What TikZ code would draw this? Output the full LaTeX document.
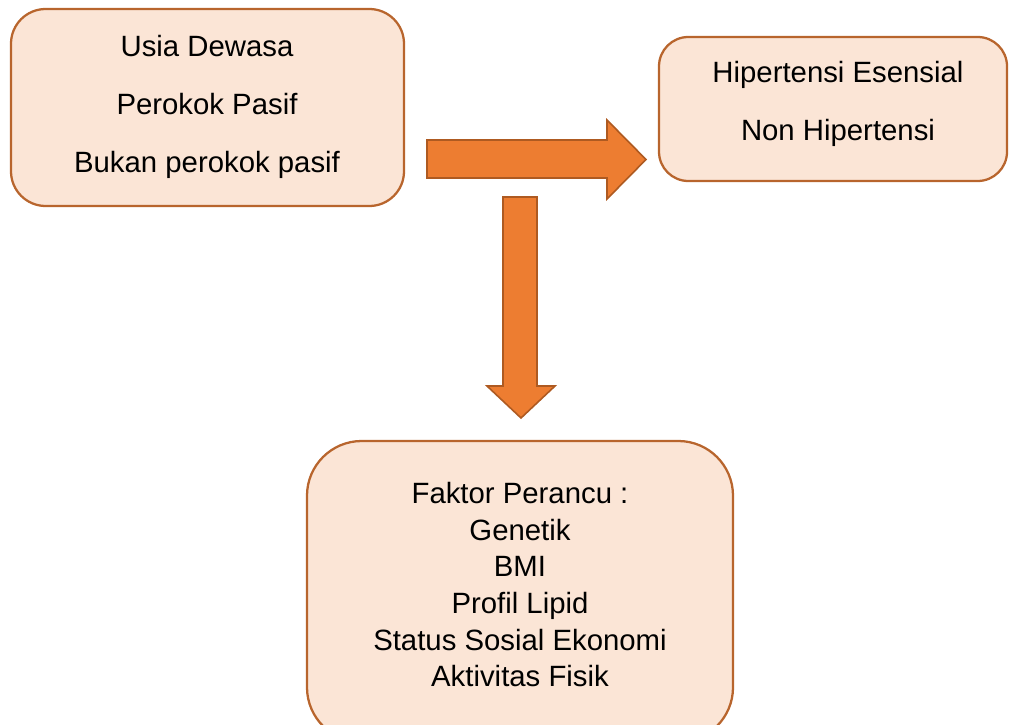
\documentclass[tikz,border=0pt]{standalone}
\usepackage{fontspec}
\setmainfont{Liberation Sans}
\usepackage{tikz}

\definecolor{boxfill}{HTML}{FBE5D6}
\definecolor{boxline}{HTML}{B8652D}
\definecolor{arrfill}{HTML}{ED7D31}
\definecolor{arrline}{HTML}{AE5A21}

\begin{document}
\begin{tikzpicture}[x=0.75pt,y=-0.75pt,
  box/.style={draw=boxline,fill=boxfill,line width=1.7pt},
  txt/.style={anchor=base,inner sep=0pt,font=\fontsize{22}{26}\selectfont},
  blok/.style={draw=arrline,fill=arrfill,line width=1.2pt,line join=miter}]
  \clip (0,0) rectangle (1009,724);
  % kotak
  \node[box,rounded corners=26pt,minimum width=294.75pt,minimum height=147.75pt] (usia) at (207.5,107.5) {};
  \node[box,rounded corners=22pt,minimum width=261pt,minimum height=108pt] (hasil) at (833,109) {};
  \node[box,rounded corners=41pt,minimum width=319.5pt,minimum height=225.75pt] (faktor) at (520,591.5) {};
  % teks
  \foreach \t [count=\i] in {Usia Dewasa,Perokok Pasif,Bukan perokok pasif}
    \node[txt] (usia\i) at (207,{57+57.6*(\i-1)}) {\t};
  \foreach \t [count=\i] in {Hipertensi Esensial,Non Hipertensi}
    \node[txt] (hasil\i) at (838,{83+57*(\i-1)}) {\t};
  \foreach \t [count=\i] in {Faktor Perancu :,Genetik,BMI,Profil Lipid,Status Sosial Ekonomi,Aktivitas Fisik}
    \node[txt] (faktor\i) at (520,{503.3+36.7*(\i-1)}) {\t};
  % panah
  \draw[blok] (427,140) -- (607,140) -- (607,120) -- (646,159.5) -- (607,199)
              -- (607,178) -- (427,178) -- cycle;
  \draw[blok] (503,197) -- (537,197) -- (537,386) -- (555,386) -- (521,418)
              -- (487,386) -- (503,386) -- cycle;
\end{tikzpicture}
\end{document}
